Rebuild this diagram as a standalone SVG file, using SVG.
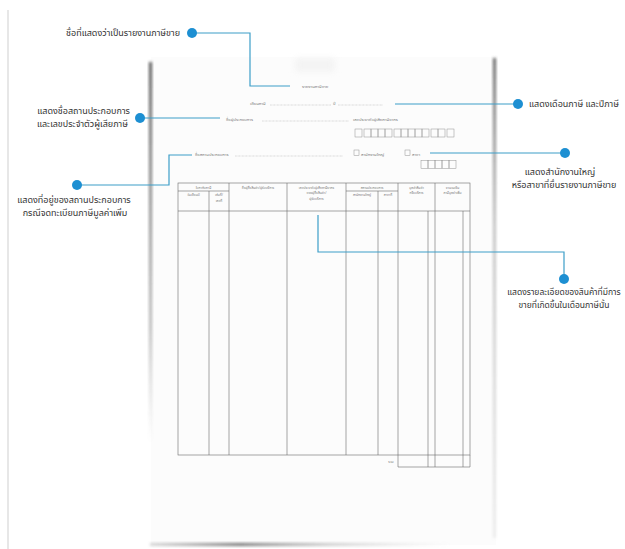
<svg xmlns="http://www.w3.org/2000/svg" width="625" height="549" viewBox="0 0 625 549">
<defs>
  <filter id="blur" x="-50%" y="-50%" width="200%" height="200%"><feGaussianBlur stdDeviation="1.6"/></filter>
  <filter id="blur2" x="-50%" y="-50%" width="200%" height="200%"><feGaussianBlur stdDeviation="3"/></filter>
  <linearGradient id="lg" x1="0" y1="0" x2="0" y2="1">
    <stop offset="0" stop-color="#444" stop-opacity="0.9"/>
    <stop offset="0.7" stop-color="#777" stop-opacity="0.5"/>
    <stop offset="1" stop-color="#999" stop-opacity="0"/>
  </linearGradient>
  <linearGradient id="rg" x1="0" y1="0" x2="0" y2="1">
    <stop offset="0" stop-color="#555" stop-opacity="0.9"/>
    <stop offset="0.35" stop-color="#888" stop-opacity="0.5"/>
    <stop offset="1" stop-color="#aaa" stop-opacity="0.2"/>
  </linearGradient>
  <linearGradient id="bg" x1="0" y1="0" x2="1" y2="0">
    <stop offset="0" stop-color="#777" stop-opacity="0.3"/>
    <stop offset="0.3" stop-color="#555" stop-opacity="0.8"/>
    <stop offset="0.6" stop-color="#888" stop-opacity="0.4"/>
    <stop offset="1" stop-color="#bbb" stop-opacity="0"/>
  </linearGradient>
</defs>
<style>
  .lbl { font-family: "Noto Sans Thai", "Noto Sans", "DejaVu Sans", sans-serif; font-size: 9px; fill: #333; }
  .ft { font-family: "Noto Sans Thai", "Noto Sans", "DejaVu Sans", sans-serif; font-size: 4.2px; fill: #777; }
  .th { font-family: "Noto Sans Thai", "Noto Sans", "DejaVu Sans", sans-serif; font-size: 3.3px; fill: #777; text-anchor: middle; }
  .conn { fill: none; stroke: #3d9ec8; stroke-width: 1.2; }
  .dot { fill: #1d8fd2; }
  .tl { stroke: #6a6a6a; stroke-width: 0.6; fill: none; }
  .dl { stroke: #999; stroke-width: 0.4; stroke-dasharray: 0.8 0.6; }
  .bx { fill: none; stroke: #888; stroke-width: 0.45; }
</style>
<rect width="625" height="549" fill="#ffffff"/>
<line x1="8" y1="10" x2="8" y2="549" stroke="#cfcfcf" stroke-width="1"/>

<g id="paper">
  <rect x="151" y="57" width="345" height="488" fill="#fcfcfc"/>
  <rect x="149" y="62" width="3" height="380" fill="url(#lg)" filter="url(#blur)"/>
  <rect x="493" y="58" width="3" height="480" fill="url(#rg)" filter="url(#blur)"/>
  <rect x="150" y="543" width="300" height="3" fill="url(#bg)" filter="url(#blur)"/>
  <rect x="295" y="58" width="40" height="14" fill="#eee" opacity="0.6" filter="url(#blur2)"/>
</g>

<g id="form">
  <text class="ft" x="302" y="88">รายงานภาษีขาย</text>
  <text class="ft" x="250" y="105">เดือนภาษี</text>
  <line class="dl" x1="270" y1="105" x2="331" y2="105"/>
  <text class="ft" x="333" y="105">ปี</text>
  <line class="dl" x1="338" y1="105" x2="383" y2="105"/>
  <text class="ft" x="226" y="121">ชื่อผู้ประกอบการ</text>
  <line class="dl" x1="262" y1="121" x2="349" y2="121"/>
  <text class="ft" x="353" y="121">เลขประจำตัวผู้เสียภาษีอากร</text>
  <g>
    <rect class="bx" x="355" y="129" width="7" height="8"/>
    <rect class="bx" x="364" y="129" width="7" height="8"/>
    <rect class="bx" x="371" y="129" width="7" height="8"/>
    <rect class="bx" x="378" y="129" width="7" height="8"/>
    <rect class="bx" x="385" y="129" width="7" height="8"/>
    <rect class="bx" x="394" y="129" width="7" height="8"/>
    <rect class="bx" x="401" y="129" width="7" height="8"/>
    <rect class="bx" x="408" y="129" width="7" height="8"/>
    <rect class="bx" x="415" y="129" width="7" height="8"/>
    <rect class="bx" x="422" y="129" width="7" height="8"/>
    <rect class="bx" x="431" y="129" width="7" height="8"/>
    <rect class="bx" x="438" y="129" width="7" height="8"/>
    <rect class="bx" x="447" y="129" width="7" height="8"/>
  </g>
  <text class="ft" x="195" y="156">ชื่อสถานประกอบการ</text>
  <line class="dl" x1="235" y1="156" x2="343" y2="156"/>
  <rect class="bx" x="354" y="150" width="5" height="5.5"/>
  <text class="ft" x="361" y="155.5">สำนักงานใหญ่</text>
  <rect class="bx" x="405" y="150" width="5" height="5.5"/>
  <text class="ft" x="412" y="155.5">สาขา</text>
  <g>
    <rect class="bx" x="421" y="160.5" width="7" height="8"/>
    <rect class="bx" x="428" y="160.5" width="7" height="8"/>
    <rect class="bx" x="435" y="160.5" width="7" height="8"/>
    <rect class="bx" x="442" y="160.5" width="7" height="8"/>
    <rect class="bx" x="449" y="160.5" width="7" height="8"/>
  </g>
</g>

<g id="table">
  <rect class="tl" x="178" y="183" width="292" height="272"/>
  <line class="tl" x1="178" y1="211" x2="470" y2="211"/>
  <line class="tl" x1="178" y1="191" x2="229" y2="191"/>
  <line class="tl" x1="346" y1="191" x2="398" y2="191"/>
  <line class="tl" x1="209" y1="191" x2="209" y2="455"/>
  <line class="tl" x1="229" y1="183" x2="229" y2="455"/>
  <line class="tl" x1="287" y1="183" x2="287" y2="455"/>
  <line class="tl" x1="346" y1="183" x2="346" y2="455"/>
  <line class="tl" x1="378" y1="191" x2="378" y2="455"/>
  <line class="tl" x1="398" y1="183" x2="398" y2="467"/>
  <line class="tl" x1="428" y1="211" x2="428" y2="467"/>
  <line class="tl" x1="435" y1="183" x2="435" y2="467"/>
  <line class="tl" x1="463" y1="211" x2="463" y2="467"/>
  <line class="tl" x1="470" y1="455" x2="470" y2="467"/>
  <line class="tl" x1="398" y1="467" x2="470" y2="467"/>
  <text class="th" x="203.5" y="188.5">ใบกำกับภาษี</text>
  <text class="th" x="193.5" y="196">วันเดือนปี</text>
  <text class="th" x="219" y="196">เล่มที่/</text>
  <text class="th" x="219" y="201.5">เลขที่</text>
  <text class="th" x="258" y="188.5">ชื่อผู้ซื้อสินค้า/ผู้รับบริการ</text>
  <text class="th" x="316.5" y="188.5">เลขประจำตัวผู้เสียภาษีอากร</text>
  <text class="th" x="316.5" y="194">ของผู้ซื้อสินค้า/</text>
  <text class="th" x="316.5" y="199.5">ผู้รับบริการ</text>
  <text class="th" x="372" y="188.5">สถานประกอบการ</text>
  <text class="th" x="362" y="196">สำนักงานใหญ่</text>
  <text class="th" x="388" y="196">สาขาที่</text>
  <text class="th" x="416.5" y="188.5">มูลค่าสินค้า</text>
  <text class="th" x="416.5" y="194">หรือบริการ</text>
  <text class="th" x="452.5" y="188.5">จำนวนเงิน</text>
  <text class="th" x="452.5" y="194">ภาษีมูลค่าเพิ่ม</text>
  <text class="th" x="391" y="463">รวม</text>
</g>

<g id="connectors">
  <path class="conn" d="M192,33 H250 V86 H290"/>
  <path class="conn" d="M395,104 H518"/>
  <path class="conn" d="M140,118 H220"/>
  <path class="conn" d="M77,185 H169 V155 H192"/>
  <path class="conn" d="M430,153 H565"/>
  <path class="conn" d="M318,215 V252 H564 V279"/>
</g>

<g id="n1"><circle class="dot" cx="192" cy="33" r="5"/><text class="lbl" x="180" y="36" text-anchor="end">ชื่อที่แสดงว่าเป็นรายงานภาษีขาย</text></g>
<g id="n2"><circle class="dot" cx="518" cy="104" r="5"/><text class="lbl" x="529" y="107">แสดงเดือนภาษี และปีภาษี</text></g>
<g id="n3"><circle class="dot" cx="140" cy="118" r="5"/><text class="lbl" x="130" y="114" text-anchor="end">แสดงชื่อสถานประกอบการ</text><text class="lbl" x="128" y="127" text-anchor="end">และเลขประจำตัวผู้เสียภาษี</text></g>
<g id="n4"><circle class="dot" cx="77" cy="185" r="5"/><text class="lbl" x="74" y="203" text-anchor="middle">แสดงที่อยู่ของสถานประกอบการ</text><text class="lbl" x="75" y="216" text-anchor="middle">กรณีจดทะเบียนภาษีมูลค่าเพิ่ม</text></g>
<g id="n5"><circle class="dot" cx="565" cy="153" r="5"/><text class="lbl" x="560" y="175" text-anchor="middle">แสดงสำนักงานใหญ่</text><text class="lbl" x="564" y="188" text-anchor="middle">หรือสาขาที่ยื่นรายงานภาษีขาย</text></g>
<g id="n6"><circle class="dot" cx="564" cy="279" r="5"/><text class="lbl" x="564" y="295" text-anchor="middle" style="font-size:8.5px">แสดงรายละเอียดของสินค้าที่มีการ</text><text class="lbl" x="564" y="308" text-anchor="middle" style="font-size:8.5px">ขายที่เกิดขึ้นในเดือนภาษีนั้น</text></g>
</svg>
